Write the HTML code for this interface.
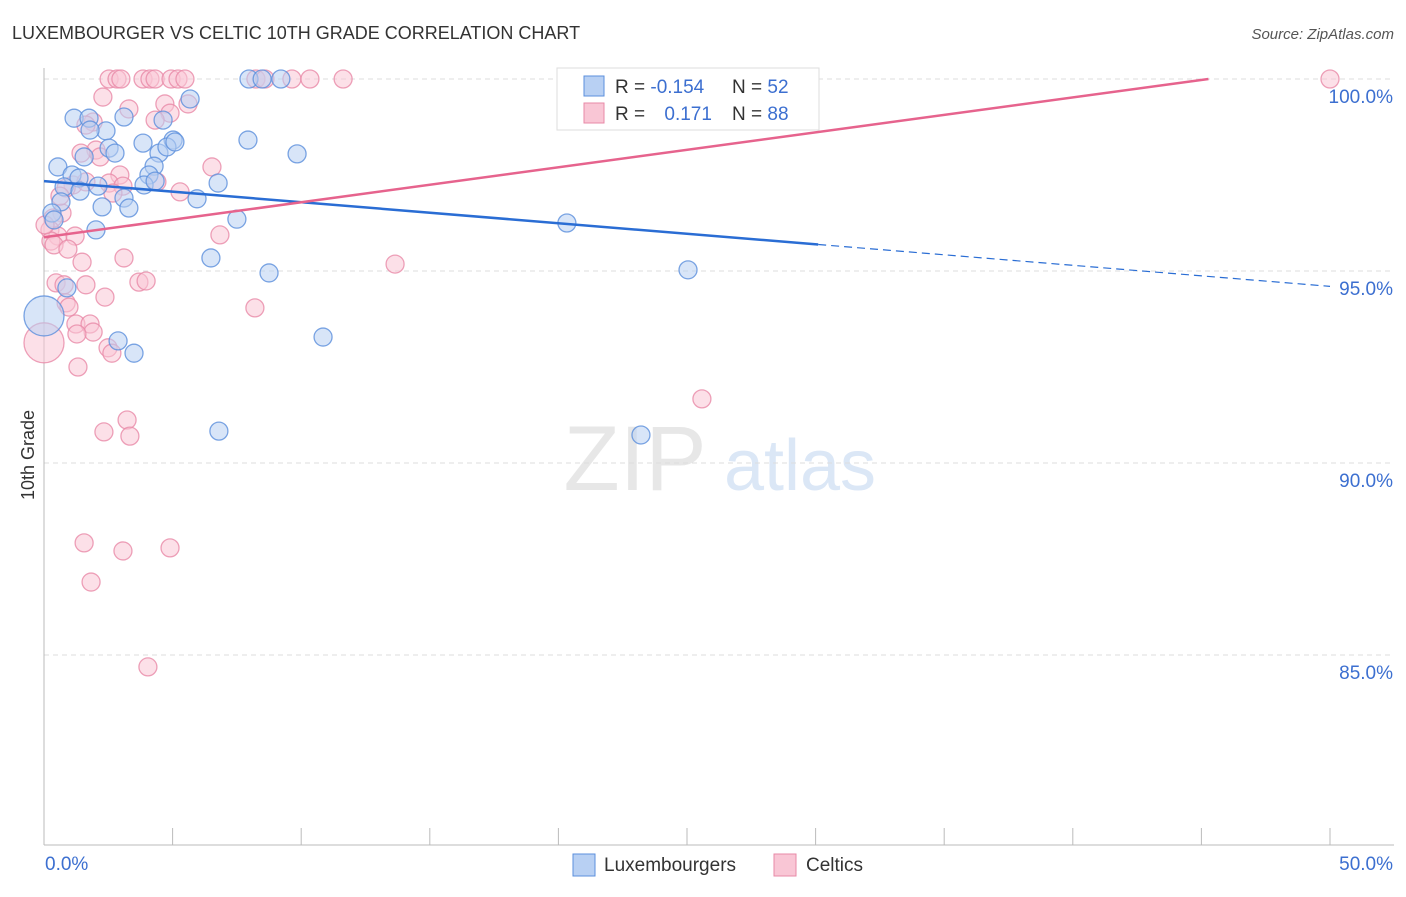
<!DOCTYPE html>
<html><head><meta charset="utf-8"><style>
body{margin:0;background:#fff;font-family:"Liberation Sans",sans-serif;}
svg text{font-family:"Liberation Sans",sans-serif;}
</style></head><body>
<svg id="chart" width="1406" height="892" xmlns="http://www.w3.org/2000/svg">
<text x="12" y="39" font-size="18" fill="#333">LUXEMBOURGER VS CELTIC 10TH GRADE CORRELATION CHART</text>
<text x="1394" y="39" font-size="15" fill="#555" font-style="italic" text-anchor="end">Source: ZipAtlas.com</text>
<text transform="translate(34,455) rotate(-90)" font-size="18" fill="#333" text-anchor="middle">10th Grade</text>
<g opacity="0.35">
<text x="635" y="490" font-size="92" fill="#bbb" font-family="Liberation Serif" text-anchor="middle">ZIP</text>
<text x="800" y="490" font-size="72" fill="#9bbbe8" text-anchor="middle">atlas</text>
</g>
<g id="grid"></g><g id="axes"></g><g id="pts"></g><g id="lines"></g>
<g>
<rect x="557" y="68" width="262" height="62" fill="#fff" stroke="#ddd"/>
<rect x="584" y="76" width="20" height="20" fill="#b8d0f3" stroke="#5b8fdc"/>
<rect x="584" y="103" width="20" height="20" fill="#f9c6d5" stroke="#e889a7"/>
<text x="615" y="93" font-size="19" fill="#333">R = <tspan fill="#3c6fd0">-0.154</tspan></text>
<text x="732" y="93" font-size="19" fill="#333">N = <tspan fill="#3c6fd0">52</tspan></text>
<text x="615" y="120" font-size="19" fill="#333">R = <tspan fill="#3c6fd0" dx="14">0.171</tspan></text>
<text x="732" y="120" font-size="19" fill="#333">N = <tspan fill="#3c6fd0">88</tspan></text>
</g>
<g>
<rect x="573" y="854" width="22" height="22" fill="#b8d0f3" stroke="#5b8fdc"/>
<text x="604" y="871" font-size="19" fill="#333">Luxembourgers</text>
<rect x="774" y="854" width="22" height="22" fill="#f9c6d5" stroke="#e889a7"/>
<text x="806" y="871" font-size="19" fill="#333">Celtics</text>
</g>
</svg>
<script>
const yTicks=[100,95,90,85];
const yTickLabels=["100.0%","95.0%","90.0%","85.0%"];
const xLabels=["0.0%","50.0%"];
const luxX=[1.17,1.75,2.41,3.11,1.79,0.54,1.56,2.53,2.76,3.85,4.47,5.02,4.78,5.09,5.68,4.63,4.28,4.08,3.89,4.32,1.09,1.36,0.78,1.40,2.10,3.11,3.30,2.26,0.66,0.31,0.39,2.02,6.77,5.95,7.50,6.49,8.75,7.97,8.48,9.21,7.93,9.84,20.33,25.04,10.85,2.88,3.50,0.89,6.80,23.21,26.87,0];
const luxY=[98.98,98.98,98.65,99.01,98.67,97.71,97.97,98.20,98.07,98.33,98.07,98.41,98.23,98.36,99.48,98.93,97.73,97.50,97.24,97.34,97.50,97.42,97.19,97.08,97.21,96.90,96.64,96.67,96.80,96.51,96.33,96.07,97.29,96.88,96.35,95.34,94.95,100,100,100,98.41,98.05,96.25,95.03,93.28,93.18,92.86,94.56,90.83,90.73,100,93.83];
const celX=[2.53,2.84,2.99,3.85,4.12,4.32,4.94,5.21,5.48,8.24,8.59,9.64,10.34,11.63,50,2.29,3.30,4.70,5.60,4.90,4.32,1.91,1.63,2.02,1.44,2.18,2.95,2.53,3.07,2.68,4.39,5.29,6.53,1.13,0.86,1.63,0.70,0.35,0.23,0.54,1.21,0.27,0.39,0.93,1.48,3.11,0.47,0.78,1.63,2.37,3.69,3.97,0.86,0.97,1.24,1.79,1.91,1.28,2.49,2.64,1.32,8.20,13.65,6.84,25.58,3.23,2.33,3.34,1.56,3.07,4.90,1.83,4.04,0,0.62,0.04];
const celY=[100,100,100,100,100,100,100,100,100,100,100,100,100,100,100,99.53,99.22,99.35,99.35,99.11,98.93,98.88,98.80,98.15,98.07,97.97,97.50,97.29,97.21,97.03,97.32,97.06,97.71,97.24,97.16,97.32,96.51,96.38,96.07,95.91,95.91,95.78,95.68,95.57,95.23,95.34,94.69,94.64,94.64,94.32,94.71,94.74,94.17,94.06,93.62,93.62,93.41,93.36,93.0,92.86,92.5,94.04,95.18,95.94,91.67,91.12,90.81,90.70,87.92,87.71,87.79,86.90,84.69,93.13,96.95,96.2];
const luxBig=[51];const celBig=[73];
const luxTrend=[97.34,94.60];
const luxSolidEnd=30.1;
const celTrend=[95.88,100.43];
const NS="http://www.w3.org/2000/svg";
const sx=v=>44+v/50*1286;
const sy=v=>79+(100-v)*38.4;
function mk(t,a,parent){const e=document.createElementNS(NS,t);for(const k in a)e.setAttribute(k,a[k]);parent.appendChild(e);return e;}
const grid=document.getElementById('grid'),axes=document.getElementById('axes'),pts=document.getElementById('pts'),lines=document.getElementById('lines');
yTicks.forEach((t,i)=>{
 const g=mk('line',{x1:44,x2:1394,y1:sy(t),y2:sy(t),stroke:'#ddd','stroke-dasharray':'5,4'},grid);
 
 
 const l=mk('text',{x:1393,y:sy(t)+24,'font-size':19,fill:'#3c6fd0','text-anchor':'end'},axes);
 l.textContent=yTickLabels[i];
 
 
});
const ax=mk('line',{x1:44,x2:44,y1:68,y2:845,stroke:'#bbb'},axes);


const bx=mk('line',{x1:44,x2:1394,y1:845,y2:845,stroke:'#bbb'},axes);


for(let i=0;i<=10;i++){const t=mk('line',{x1:sx(i*5),x2:sx(i*5),y1:828,y2:845,stroke:'#bbb'},axes);
 
 }
[[0,'start',45],[50,'end',1393]].forEach((d,i)=>{const t=mk('text',{x:d[2],y:870,'font-size':19,fill:'#3c6fd0','text-anchor':d[1]},axes);t.textContent=xLabels[i];
 
 });
function draw(X,Y,big,fill,stroke,name){X.forEach((x,i)=>{const c=mk('circle',{cx:sx(x),cy:sy(Y[i]),r:big.includes(i)?20:9,fill:fill,'fill-opacity':0.55,stroke:stroke,'stroke-width':1.3,'stroke-opacity':0.8},pts);
 
 });}
draw(celX,celY,celBig,'#f9c6d5','#e889a7','celtic-point');
draw(luxX,luxY,luxBig,'#b8d0f3','#5b8fdc','luxembourger-point');
const ly=x=>luxTrend[0]+(luxTrend[1]-luxTrend[0])*x/50;
const l1=mk('line',{x1:sx(0),y1:sy(ly(0)),x2:sx(luxSolidEnd),y2:sy(ly(luxSolidEnd)),stroke:'#2a6dd4','stroke-width':2.5},lines);


const l2=mk('line',{x1:sx(luxSolidEnd),y1:sy(ly(luxSolidEnd)),x2:sx(50),y2:sy(ly(50)),stroke:'#2a6dd4','stroke-width':1.2,'stroke-dasharray':'8,5'},lines);


const cy=x=>celTrend[0]+(celTrend[1]-celTrend[0])*x/50;
const xEnd=50*(100-celTrend[0])/(celTrend[1]-celTrend[0]);
const l3=mk('line',{x1:sx(0),y1:sy(cy(0)),x2:sx(xEnd),y2:sy(100),stroke:'#e6638d','stroke-width':2.5},lines);


</script>
</body></html>
